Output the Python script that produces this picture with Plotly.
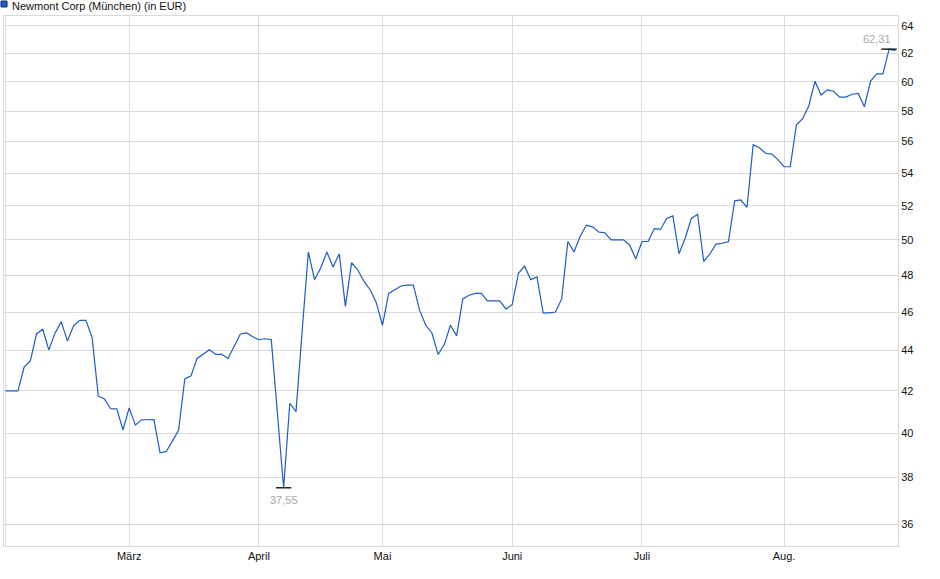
import numpy as np
import pandas as pd
import plotly.graph_objects as go

title = "Newmont Corp (München) (in EUR)"

# trading days shown (Munich exchange), Feb 3 to Aug 27 2025
first_day = "2025-02-03"
last_day = "2025-08-27"
holidays = ["2025-04-18", "2025-04-21", "2025-05-01"]

# daily closing prices in EUR
prices = [
    42.0, 42.0, 42.0, 43.17, 43.47, 44.85, 45.09, 44.03, 44.89, 45.49,
    44.49, 45.27, 45.56, 45.56, 44.66, 41.75, 41.61, 41.14, 41.13, 40.14,
    41.18, 40.37, 40.62, 40.62, 40.63, 39.1, 39.16, 39.63, 40.14, 42.58,
    42.73, 43.6, 43.8, 44.04, 43.8, 43.8, 43.6, 44.2, 44.85, 44.9,
    44.7, 44.55, 44.6, 44.55, 41.0, 37.55, 41.4, 41.0, 45.0, 49.3,
    47.75, 48.4, 49.3, 48.45, 49.2, 46.3, 48.7, 48.3, 47.65, 47.2,
    46.5, 45.3, 47.0, 47.2, 47.4, 47.45, 47.45, 46.1, 45.3, 44.9,
    43.8, 44.3, 45.3, 44.75, 46.7, 46.9, 47.0, 47.0, 46.6, 46.6,
    46.6, 46.15, 46.4, 48.1, 48.5, 47.75, 47.9, 45.95, 45.95, 46.0,
    46.7, 49.9, 49.3, 50.2, 50.85, 50.75, 50.45, 50.4, 50.0, 50.0,
    50.0, 49.7, 48.9, 49.9, 49.9, 50.65, 50.6, 51.25, 51.4, 49.2,
    50.1, 51.25, 51.5, 48.75, 49.2, 49.75, 49.8, 49.9, 52.3, 52.35,
    51.9, 55.8, 55.6, 55.25, 55.2, 54.85, 54.4, 54.4, 57.1, 57.5,
    58.35, 60.05, 59.1, 59.45, 59.35, 58.95, 58.95, 59.15, 59.2, 58.3,
    60.05, 60.55, 60.55, 62.31, 62.2,
]

month_labels = ["März", "April", "Mai", "Juni", "Juli", "Aug."]
y_ticks = [36, 38, 40, 42, 44, 46, 48, 50, 52, 54, 56, 58, 60, 62, 64]

days = pd.bdate_range(first_day, last_day)
days = days[~days.isin(pd.to_datetime(holidays))]
dates = days.strftime("%Y-%m-%d").tolist()

s = pd.Series(days)
month_starts = s.groupby(s.dt.month).first().iloc[1:].dt.strftime("%Y-%m-%d").tolist()
tickvals = [dates[0]] + month_starts
ticktext = [""] + month_labels

i_min = int(np.argmin(prices))
i_max = int(np.argmax(prices))

def de(v):
    return f"{v:.2f}".replace(".", ",")

line_blue = "#1c5cc4"
grid = "#dadada"
font = "Liberation Sans, Arial, sans-serif"

fig = go.Figure()
fig.add_trace(go.Scatter(x=dates, y=prices, mode="lines",
                         line=dict(color=line_blue, width=1.2),
                         hoverinfo="x+y", showlegend=False))
fig.add_trace(go.Scatter(x=[dates[i_min], dates[i_max]],
                         y=[prices[i_min], prices[i_max]], mode="markers",
                         marker=dict(symbol="line-ew", size=11,
                                     line=dict(color="black", width=1.3)),
                         hoverinfo="skip", showlegend=False))

fig.add_annotation(x=dates[i_min], y=np.log10(prices[i_min]), text=de(prices[i_min]),
                   showarrow=False, yanchor="top", yshift=-4,
                   font=dict(size=11, color="#a8a8a8", family=font))
fig.add_annotation(x=dates[i_max], y=np.log10(prices[i_max]), text=de(prices[i_max]),
                   showarrow=False, yanchor="bottom", xanchor="right", xshift=4, yshift=2,
                   font=dict(size=11, color="#a8a8a8", family=font))

# legend box and title in the top-left corner
fig.add_shape(type="rect", xref="paper", yref="paper",
              x0=-0.0034, x1=0.0034, y0=1.017, y1=1.0283,
              fillcolor=line_blue, line=dict(color="#0d2f6e", width=1))
fig.add_annotation(xref="paper", yref="paper", x=0.0062, y=1.0195,
                   xanchor="left", yanchor="middle", showarrow=False,
                   text=title, font=dict(size=11, color="#111", family=font))

fig.update_xaxes(type="category", range=[-0.26, 144.44],
                 tickvals=tickvals, ticktext=ticktext,
                 showgrid=True, gridcolor=grid, gridwidth=1,
                 showline=True, linecolor=grid, mirror=True,
                 ticks="", tickfont=dict(size=11, color="#111", family=font))
fig.update_yaxes(type="log", side="right",
                 range=[np.log10(35.11), np.log10(64.74)],
                 tickvals=y_ticks, ticktext=[str(t) for t in y_ticks],
                 showgrid=True, gridcolor=grid, gridwidth=1,
                 showline=True, linecolor=grid, mirror=True,
                 ticks="", tickfont=dict(size=11, color="#111", family=font))

fig.update_layout(width=940, height=579,
                  margin=dict(l=4, r=42, t=16, b=33),
                  plot_bgcolor="white", paper_bgcolor="white",
                  font=dict(family=font), hovermode="closest")

# drop the browser's default 8px page margin so the chart sits at the window corner
fig.write_html("out.html", config={"displayModeBar": False},
               post_script="document.body.style.margin='0';")
